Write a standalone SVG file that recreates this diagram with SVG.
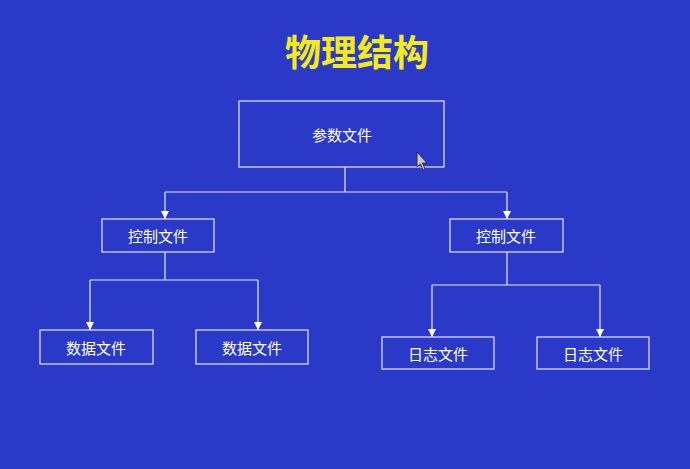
<svg xmlns="http://www.w3.org/2000/svg" width="690" height="469" viewBox="0 0 690 469">
<defs>
<marker id="ar" viewBox="0 0 10 10" refX="10" refY="5" markerWidth="8" markerHeight="8" orient="auto" markerUnits="userSpaceOnUse"><path d="M0,0 L10,5 L0,10 z" fill="#ffffff"/></marker>
<style>
.b{fill:none;stroke:#e8e8f0;stroke-width:1.2}
.t{fill:#ffffff;font-family:"Noto Sans CJK SC",sans-serif;font-size:15px;text-anchor:middle;dominant-baseline:central}
.c{fill:none;stroke:#e8e8f0;stroke-width:1.2}
</style>
</defs>
<rect width="690" height="469" fill="#2b39c8"/>
<text x="357" y="50" fill="#f5ea1a" font-family="Noto Sans CJK SC,sans-serif" font-size="36" font-weight="bold" text-anchor="middle" dominant-baseline="central">物理结构</text>
<g id="connectors">
<path class="c" d="M345,167 V192 M165,192 H507"/>
<path class="c" d="M165,192 V219" marker-end="url(#ar)"/>
<path class="c" d="M507,192 V219" marker-end="url(#ar)"/>
<path class="c" d="M165,252 V280 M90,280 H258"/>
<path class="c" d="M90,280 V330" marker-end="url(#ar)"/>
<path class="c" d="M258,280 V330" marker-end="url(#ar)"/>
<path class="c" d="M507,252 V285 M432,285 H600"/>
<path class="c" d="M432,285 V337" marker-end="url(#ar)"/>
<path class="c" d="M600,285 V337" marker-end="url(#ar)"/>
</g>
<g id="params"><rect class="b" x="239" y="101" width="205" height="66"/><text class="t" x="342" y="134">参数文件</text></g>
<g id="ctrl1"><rect class="b" x="102" y="219" width="112" height="33"/><text class="t" x="158" y="235">控制文件</text></g>
<g id="ctrl2"><rect class="b" x="450" y="219" width="113" height="33"/><text class="t" x="506" y="235">控制文件</text></g>
<g id="data1"><rect class="b" x="40" y="330" width="113" height="34"/><text class="t" x="96" y="347">数据文件</text></g>
<g id="data2"><rect class="b" x="196" y="330" width="112" height="34"/><text class="t" x="252" y="347">数据文件</text></g>
<g id="log1"><rect class="b" x="382" y="337" width="112" height="32"/><text class="t" x="438" y="353">日志文件</text></g>
<g id="log2"><rect class="b" x="537" y="337" width="112" height="32"/><text class="t" x="593" y="353">日志文件</text></g>
<path d="M417,152 L417,167 L420.5,164 L423,170 L425,169 L422.5,163 L427,163 z" fill="#c8c8d0" stroke="#202020" stroke-width="0.8"/>
</svg>
